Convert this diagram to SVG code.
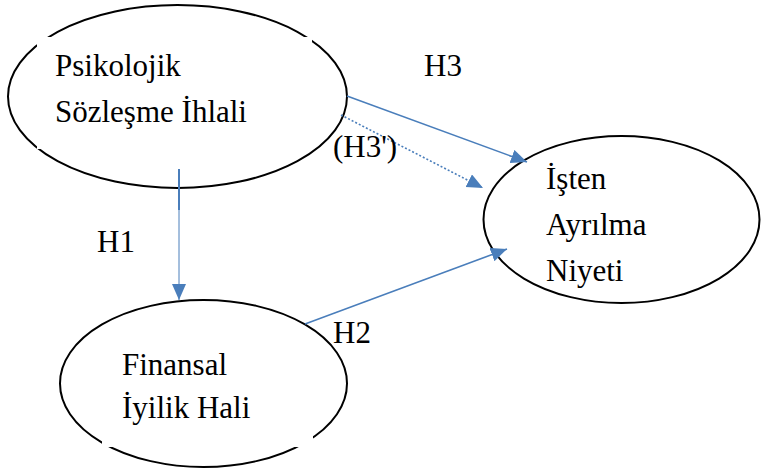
<svg xmlns="http://www.w3.org/2000/svg" width="761" height="475" viewBox="0 0 761 475">
<style>
.node{fill:#fff;stroke:#000;stroke-width:2}
.mask{fill:#fff;stroke:none}
.t{font-family:"Liberation Serif","Times New Roman",serif;font-size:31px;fill:#000}
.c{stroke:#4A7EBB;stroke-width:1.6;fill:none}
</style>
<defs>
<marker id="ah" markerUnits="userSpaceOnUse" markerWidth="17" markerHeight="15" refX="16" refY="7" orient="auto">
<path d="M0,0 L16,7 L0,14 z" fill="#4A7EBB"/>
</marker>
</defs>
<rect width="761" height="475" fill="#fff"/>
<g id="node-psikolojik">
<ellipse class="node" cx="177.5" cy="96.5" rx="169.5" ry="91.5"/>
<rect class="mask" x="37" y="37" width="275" height="112"/>
<text class="t" x="55" y="76">Psikolojik</text>
<text class="t" x="55" y="122">Sözleşme İhlali</text>
</g>
<g id="node-isten">
<ellipse class="node" cx="621.5" cy="219.5" rx="138" ry="83.5"/>
<text class="t" x="546" y="189">İşten</text>
<text class="t" x="546" y="235">Ayrılma</text>
<text class="t" x="546" y="281">Niyeti</text>
</g>
<g id="node-finansal">
<ellipse class="node" cx="203.5" cy="383.5" rx="143.5" ry="83.5"/>
<rect class="mask" x="102" y="340" width="211" height="107"/>
<text class="t" x="122" y="375">Finansal</text>
<text class="t" x="122" y="418">İyilik Hali</text>
</g>
<g id="connectors">
<line x1="179" y1="169" x2="179" y2="210" stroke="#4A7EBB" stroke-width="2"/>
<line x1="179" y1="210" x2="179" y2="300" stroke="#4A7EBB" stroke-width="1" marker-end="url(#ah)"/>
<line class="c" x1="347" y1="96" x2="527" y2="162" marker-end="url(#ah)"/>
<line class="c" x1="341" y1="115" x2="483" y2="188" stroke-dasharray="2,2" marker-end="url(#ah)"/>
<line class="c" x1="305" y1="324" x2="507" y2="249" marker-end="url(#ah)"/>
</g>
<g id="labels">
<text class="t" x="424" y="76">H3</text>
<text class="t" x="333" y="157">(H3')</text>
<text class="t" x="97" y="252">H1</text>
<text class="t" x="333" y="343">H2</text>
</g>
</svg>
